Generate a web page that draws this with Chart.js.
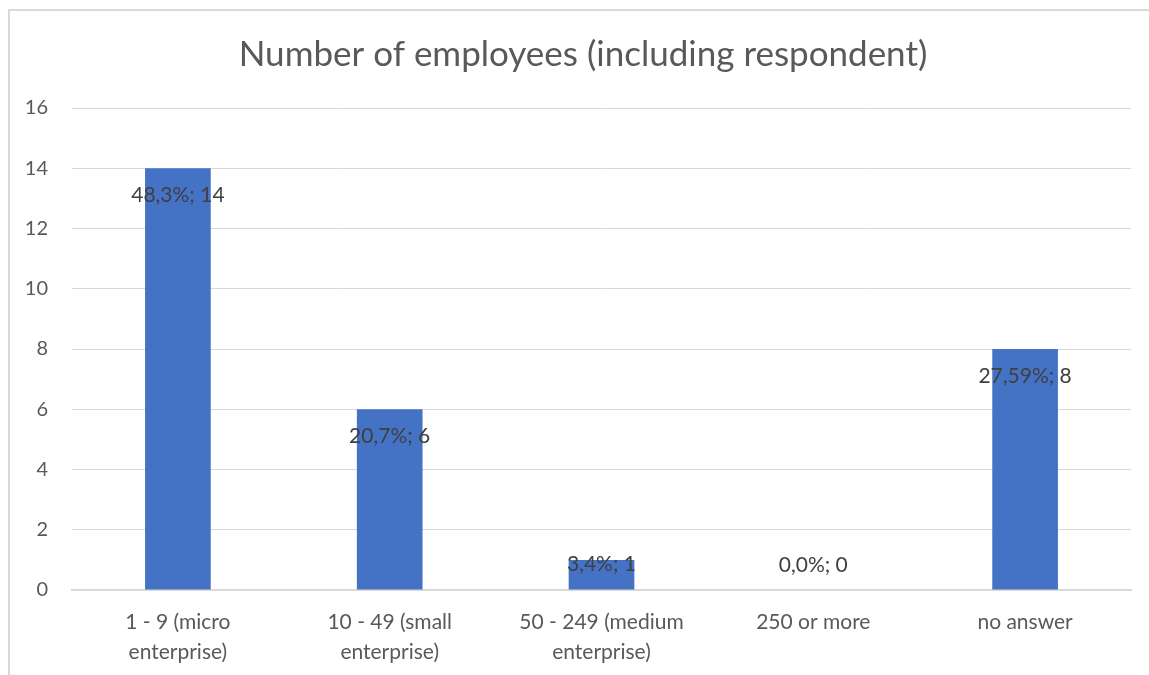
<!DOCTYPE html>
<html>
<head>
<meta charset="utf-8">
<script src="https://cdn.jsdelivr.net/npm/chart.js@4.4.1/dist/chart.umd.min.js"></script>
<style>
  html, body { margin: 0; padding: 0; background: #fff; overflow: hidden; }
  #frame {
    position: absolute; left: 8px; top: 9px; width: 1400px; height: 900px;
    border-left: 2px solid #d9d9d9; border-top: 2px solid #d9d9d9;
  }
  #wrap { position: absolute; left: 0; top: 0; width: 1149px; height: 675px; }
</style>
</head>
<body>
<div id="frame"></div>
<div id="wrap"><canvas id="chart" width="1149" height="675"></canvas></div>
<script>
// Survey answers: company size
const categories = [
  ["1 - 9 (micro", "enterprise)"],
  ["10 - 49 (small", "enterprise)"],
  ["50 - 249 (medium", "enterprise)"],
  "250 or more",
  "no answer"
];
const counts = [14, 6, 1, 0, 8];
const shares = ["48,3%", "20,7%", "3,4%", "0,0%", "27,59%"];
const yTicks = [0, 2, 4, 6, 8, 10, 12, 14, 16];
const titleText = "Number of employees (including respondent)";

const FONT = "Lato, 'Open Sans', sans-serif";
const GREY = "#595959";

// Title centred on the framed area rather than on the canvas
const frameTitle = {
  id: "frameTitle",
  afterDraw(chart) {
    const ctx = chart.ctx;
    ctx.save();
    ctx.font = "35px " + FONT;
    ctx.fillStyle = GREY;
    ctx.textAlign = "center";
    ctx.textBaseline = "middle";
    ctx.fillText(titleText, chart.width / 2 + 8.5, 55);
    ctx.restore();
  }
};

// Excel-style "inside end" labels, kept above the axis for short bars
const barLabels = {
  id: "barLabels",
  afterDatasetsDraw(chart) {
    const ctx = chart.ctx;
    const meta = chart.getDatasetMeta(0);
    ctx.save();
    ctx.font = "21px " + FONT;
    ctx.fillStyle = "#404040";
    ctx.textAlign = "center";
    ctx.textBaseline = "middle";
    meta.data.forEach((bar, i) => {
      const y = Math.min(bar.y + 27, bar.base - 25);
      ctx.fillText(`${shares[i]}; ${counts[i]}`, bar.x, y);
    });
    ctx.restore();
  }
};

new Chart(document.getElementById("chart"), {
  type: "bar",
  data: {
    labels: categories,
    datasets: [{
      data: counts,
      backgroundColor: "#4472c4",
      categoryPercentage: 1,
      barPercentage: 0.31
    }]
  },
  options: {
    responsive: false,
    animation: false,
    layout: { padding: { left: 0, right: 18, top: 108, bottom: 0 } },
    plugins: {
      legend: { display: false },
      tooltip: { enabled: false },
      title: { display: false }
    },
    scales: {
      x: {
        grid: { display: false },
        border: { display: true, color: "#d9d9d9", width: 2 },
        ticks: {
          color: GREY,
          font: { family: FONT, size: 21, lineHeight: 1.4 },
          padding: 10,
          maxRotation: 0
        },
        afterFit(scale) { scale.height = 85; }
      },
      y: {
        min: 0,
        max: 16,
        afterBuildTicks(scale) { scale.ticks = yTicks.map(v => ({ value: v })); },
        grid: { color: "#d9d9d9", lineWidth: 1, drawTicks: false },
        border: { display: false },
        ticks: {
          color: GREY,
          font: { family: FONT, size: 20 },
          padding: 24
        },
        afterFit(scale) { scale.width = 72; }
      }
    }
  },
  plugins: [barLabels, frameTitle]
});
</script>
</body>
</html>
